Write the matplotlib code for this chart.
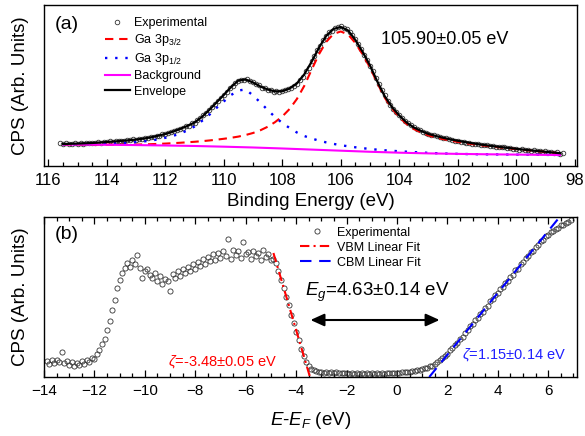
import matplotlib
matplotlib.use('Agg')
import matplotlib.pyplot as plt
from matplotlib.ticker import MultipleLocator
import numpy as np

plt.rcParams['font.family'] = ['Liberation Sans', 'DejaVu Sans']
plt.rcParams['mathtext.fontset'] = 'custom'
plt.rcParams['mathtext.rm'] = 'Liberation Sans'
plt.rcParams['mathtext.it'] = 'Liberation Sans:italic'
plt.rcParams['mathtext.bf'] = 'Liberation Sans:bold'

# ---------------- (a) Ga 3p core level ----------------
# measured spectrum, 115.6 -> 98.4 eV in 0.1 eV steps
cps_top = [
    22.6, 21.6, 22.9, 22.0, 21.5, 22.8, 22.1, 22.9, 22.3, 23.2,
    22.5, 23.1, 22.7, 23.8, 23.3, 24.1, 23.6, 24.5, 24.2, 24.9,
    24.6, 25.4, 25.0, 25.9, 25.6, 26.5, 26.1, 27.2, 27.0, 28.1,
    27.9, 29.0, 29.1, 30.2, 30.3, 31.6, 31.8, 33.2, 33.6, 35.1,
    35.6, 37.4, 37.9, 39.6, 40.4, 42.5, 43.2, 46.0, 47.6, 50.8,
    52.6, 56.4, 58.9, 62.3, 65.0, 68.2, 71.3, 74.0, 77.6, 79.8,
    83.0, 84.6, 86.3, 85.9, 86.8, 84.9, 83.8, 81.5, 80.6, 78.4,
    77.6, 76.0, 75.7, 74.4, 75.0, 74.2, 75.3, 75.6, 77.1, 78.2,
    80.4, 82.3, 85.9, 89.1, 94.6, 98.2, 104.5, 109.6, 115.7, 120.3,
    126.0, 129.6, 133.6, 135.4, 138.2, 138.5, 139.6, 138.4, 137.2, 134.1,
    130.9, 126.5, 121.6, 116.9, 111.0, 106.2, 100.1, 94.5, 87.8, 81.6,
    76.0, 70.5, 65.3, 61.4, 57.0, 54.1, 50.7, 48.0, 45.2, 42.9,
    40.8, 38.9, 37.2, 35.9, 34.3, 33.4, 32.3, 31.2, 30.6, 29.5,
    29.0, 28.0, 27.7, 26.7, 26.3, 25.4, 25.3, 24.3, 24.1, 23.3,
    23.2, 22.4, 22.3, 21.5, 21.4, 20.6, 20.7, 19.8, 20.0, 19.1,
    19.3, 18.5, 18.6, 17.7, 18.0, 17.0, 17.3, 16.4, 16.8, 15.8,
    16.1, 15.3, 15.7, 14.6, 15.2, 13.8, 14.6, 13.5, 14.0, 12.9,
    13.6, 12.4, 13.1]
be_top = np.linspace(115.6, 98.4, len(cps_top))

# fitted curves, 115.5 -> 98.5 eV in 0.25 eV steps
envelope = [
    22.0, 22.2, 22.4, 22.7, 23.0, 23.5, 24.0, 24.5, 25.1, 25.7,
    26.4, 27.4, 28.6, 30.2, 32.0, 34.3, 37.0, 40.0, 43.5, 49.0,
    56.0, 63.5, 71.0, 79.0, 85.5, 86.5, 83.5, 79.5, 76.5, 74.6,
    74.8, 77.5, 82.5, 91.5, 104.0, 118.0, 130.0, 137.0, 139.0, 135.5,
    126.0, 114.0, 100.5, 84.5, 70.0, 59.0, 50.5, 43.5, 38.5, 35.0,
    32.0, 30.0, 28.2, 26.6, 25.2, 23.9, 22.7, 21.6, 20.6, 19.7,
    18.8, 18.0, 17.2, 16.4, 15.6, 14.9, 14.2, 13.5, 12.8]
ga3p32 = [
    21.6, 21.6, 21.5, 21.5, 21.4, 21.4, 21.3, 21.3, 21.3, 21.3,
    21.4, 21.6, 21.8, 22.1, 22.4, 22.8, 23.2, 23.7, 24.2, 24.8,
    25.5, 26.3, 27.2, 28.2, 29.4, 31.0, 33.0, 35.7, 39.2, 43.8,
    49.5, 57.0, 67.0, 80.0, 96.0, 111.5, 124.0, 132.0, 134.5, 131.5,
    123.0, 111.5, 98.5, 83.0, 68.5, 57.5, 49.0, 42.0, 37.0, 33.5,
    30.6, 28.6, 26.9, 25.4, 24.1, 22.9, 21.9, 20.9, 20.0, 19.2,
    18.4, 17.6, 16.9, 16.1, 15.4, 14.7, 14.0, 13.4, 12.7]
ga3p12 = [
    21.7, 21.7, 21.8, 21.9, 22.0, 22.2, 22.4, 22.6, 22.9, 23.3,
    23.8, 24.5, 25.4, 26.6, 28.2, 30.0, 32.3, 35.5, 39.5, 45.0,
    51.0, 58.0, 64.5, 71.0, 75.5, 76.5, 70.5, 63.5, 56.0, 49.0,
    43.0, 38.0, 33.5, 30.0, 27.5, 25.4, 23.6, 22.1, 20.8, 19.7,
    18.7, 17.8, 17.0, 16.3, 15.7, 15.2, 14.7, 14.3, 13.9, 13.5,
    13.1, 12.8, 12.5, 12.3, 12.1, 11.95, 11.85, 11.75, 11.65, 11.6,
    11.5, 11.45, 11.4, 11.3, 11.25, 11.2, 11.1, 11.05, 11.0]
be_fit = np.linspace(115.5, 98.5, len(envelope))

bg_be = [115.5, 114, 113, 112, 111, 110, 109, 108, 107, 106, 105, 104,
         103, 102, 101, 100, 99, 98.5]
background = [21.5, 21.2, 20.9, 20.5, 20.0, 19.3, 18.5, 17.5, 16.4, 15.3,
              14.2, 13.3, 12.6, 12.1, 11.7, 11.4, 11.1, 11.0]

# ---------------- (b) valence band / edge ----------------
# E - E_F from -13.9 to 6.9 eV in 0.1 eV steps
cps_bot = [
    16, 13, 17, 14, 17, 15, 25, 14, 16, 12,
    15, 11, 14, 12, 16, 13, 17, 15, 19, 18,
    23, 27, 33, 38, 47, 56, 67, 77, 89, 97,
    104, 109, 114, 110, 117, 113, 122, 109, 99, 106,
    108, 102, 99, 104, 96, 101, 93, 98, 96, 86,
    103, 99, 106, 101, 108, 104, 110, 106, 113, 108,
    115, 111, 118, 113, 120, 116, 123, 117, 124, 119,
    126, 121, 138, 118, 127, 122, 126, 119, 135, 123,
    125, 118, 126, 121, 124, 117, 127, 120, 123, 117,
    118, 114, 106, 97, 89, 80, 72, 62, 54, 45,
    37, 28, 21, 15, 11, 8.5, 7, 6, 5.3, 5.0,
    4.2, 5.1, 4.0, 4.8, 3.9, 4.6, 3.7, 4.5, 3.6, 4.4,
    3.5, 4.2, 3.4, 4.1, 3.3, 4.0, 3.3, 3.9, 3.2, 3.9,
    3.3, 3.8, 3.3, 3.9, 3.4, 4.0, 3.6, 4.2, 3.8, 4.4,
    4.2, 4.8, 4.7, 5.3, 5.4, 6.0, 6.3, 7.0, 7.4, 7.9,
    8.6, 9.2, 10.6, 11.5, 13.4, 14.7, 17.0, 18.6, 21.5, 23.3,
    26.6, 28.6, 32.2, 34.3, 38.3, 40.5, 44.5, 46.7, 50.8, 52.8,
    56.9, 59.0, 63.1, 65.2, 69.4, 71.4, 75.6, 77.6, 81.8, 83.7,
    88.0, 90.0, 94.2, 96.1, 100.4, 102.3, 106.6, 108.4, 112.8, 114.6,
    118.8, 120.6, 124.7, 126.4, 130.4, 131.9, 135.7, 137.0, 140.6, 141.6,
    144.8, 145.5, 148.4, 149.0, 151.5, 151.9, 154.3, 154.6, 156.8]
e_bot = np.linspace(-13.9, 6.9, len(cps_bot))

vbm_e = [-4.90, -3.45]
vbm_fit = [124, 0]
cbm_e = [1.28, 6.55]
cbm_fit = [0, 163]

fig = plt.figure(figsize=(5.85, 4.36), dpi=100)
ax1 = fig.add_axes([0.0752, 0.6193, 0.9111, 0.3693])
ax2 = fig.add_axes([0.0752, 0.1353, 0.9111, 0.3670])

ax1.plot(be_top, cps_top, 'o', mfc='none', mec='#333333', ms=3.3, mew=0.6,
         label='Experimental', zorder=2)
ax1.plot(be_fit, ga3p32, color='#FF0000', lw=1.5, dashes=(4, 2.8),
         label='Ga 3p$_{3/2}$', zorder=3)
ax1.plot(be_fit, ga3p12, color='#0000FF', lw=1.7, dashes=(1, 3.3),
         label='Ga 3p$_{1/2}$', zorder=3)
ax1.plot(bg_be, background, color='#FF00FF', lw=1.5, label='Background', zorder=3)
ax1.plot(be_fit, envelope, color='black', lw=1.6, label='Envelope', zorder=4)

ax1.set_xlim(116.15, 97.92)
ax1.set_ylim(0, 161)
ax1.set_yticks([])
ax1.xaxis.set_major_locator(MultipleLocator(2))
ax1.xaxis.set_minor_locator(MultipleLocator(0.5))
ax1.tick_params(axis='x', which='both', direction='in', top=False, labelsize=12, pad=5, width=0.9)
ax1.tick_params(axis='x', which='major', length=5)
ax1.tick_params(axis='x', which='minor', length=2.8)
ax1.set_xlabel('Binding Energy (eV)', fontsize=13.5)
ax1.xaxis.set_label_coords(0.5, -0.165)
ax1.set_ylabel('CPS (Arb. Units)', fontsize=13.5)
ax1.yaxis.set_label_coords(-0.028, 0.5)
ax1.text(0.021, 0.88, '(a)', transform=ax1.transAxes, fontsize=14, va='center')
ax1.text(104.63, 126, '105.90±0.05 eV', fontsize=13, va='center')
ax1.legend(loc='upper left', bbox_to_anchor=(0.114, 0.925), frameon=False,
           fontsize=9, handlelength=2.0, handletextpad=0.3, labelspacing=0.25,
           borderaxespad=0, borderpad=0, numpoints=1)

ax2.plot(e_bot, cps_bot, 'o', mfc='none', mec='#333333', ms=3.7, mew=0.6,
         label='Experimental', zorder=2)
ax2.plot(vbm_e, vbm_fit, color='#FF0000', lw=1.5, dashes=(4.5, 2, 1, 2),
         label='VBM Linear Fit', zorder=3)
ax2.plot(cbm_e, cbm_fit, color='#0000FF', lw=1.5, dashes=(5.5, 3.7),
         label='CBM Linear Fit', zorder=3)

ax2.set_xlim(-14, 7.14)
ax2.set_ylim(0, 160)
ax2.set_yticks([])
ax2.xaxis.set_major_locator(MultipleLocator(2))
ax2.xaxis.set_minor_locator(MultipleLocator(0.5))
ax2.tick_params(axis='x', which='both', direction='in', top=True, labelsize=11, pad=5, width=0.9)
ax2.tick_params(axis='x', which='major', length=5)
ax2.tick_params(axis='x', which='minor', length=2.8)
ax2.set_xlabel('$E$-$E_F$ (eV)', fontsize=13.5)
ax2.xaxis.set_label_coords(0.5, -0.205)
ax2.set_ylabel('CPS (Arb. Units)', fontsize=13.5)
ax2.yaxis.set_label_coords(-0.028, 0.5)
ax2.text(0.021, 0.89, '(b)', transform=ax2.transAxes, fontsize=14, va='center')
ax2.text(-3.63, 81, '$E_g$=4.63±0.14 eV', fontsize=13.5, va='baseline')
ax2.annotate('', xy=(-3.43, 57), xytext=(1.69, 57),
             arrowprops=dict(arrowstyle='<|-|>,head_length=0.55,head_width=0.25',
                             color='black', lw=1.5, mutation_scale=15,
                             shrinkA=0, shrinkB=0))
ax2.text(-9.10, 15, r'$\zeta$=-3.48±0.05 eV', color='#FF0000', fontsize=10.5, va='center')
ax2.text(2.58, 22, r'$\zeta$=1.15±0.14 eV', color='#2020FF', fontsize=10.5, va='center')
ax2.legend(loc='upper left', bbox_to_anchor=(0.481, 0.94), frameon=False,
           fontsize=9, handlelength=2.65, handletextpad=0.3, labelspacing=0.25,
           borderaxespad=0, borderpad=0, numpoints=1)

for ax in (ax1, ax2):
    for s in ax.spines.values():
        s.set_linewidth(1.0)

fig.savefig('out.png', dpi=100)
